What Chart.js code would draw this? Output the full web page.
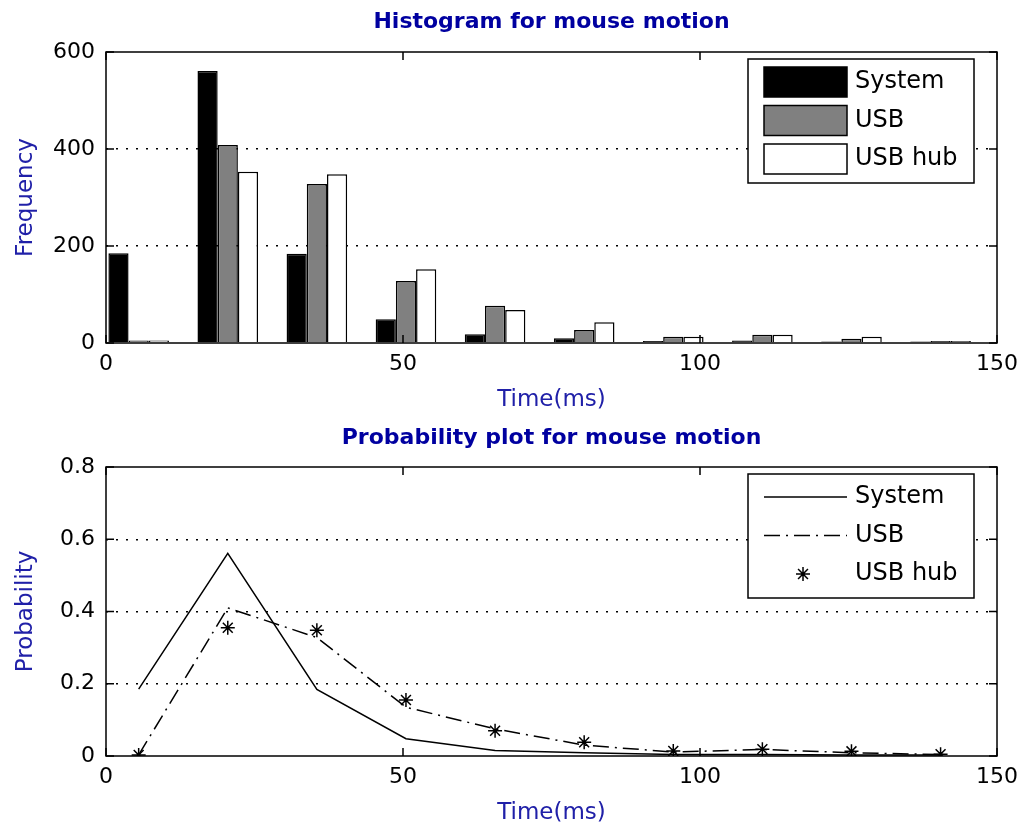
<!DOCTYPE html>
<html>
<head>
<meta charset="utf-8">
<title>Mouse motion</title>
<script src="https://cdn.jsdelivr.net/npm/chart.js@4/dist/chart.umd.min.js"></script>
<style>
  body { margin: 0; background: #fff; }
  canvas { display: block; }
</style>
</head>
<body>
<canvas id="histogramme" width="1026" height="416"></canvas>
<canvas id="probabilite" width="1026" height="417"></canvas>
<script>
// bin centres (ms)
const binCenters = [5.5, 20.5, 35.5, 50.5, 65.5, 80.5, 95.5, 110.5, 125.5, 140.5];

// histogram counts
const systemCounts = [185, 561, 184, 49, 18, 10, 4, 5, 3, 3];
const usbCounts = [5, 408, 328, 128, 77, 27, 13, 17, 9, 4];
const hubCounts = [5, 353, 348, 152, 68, 43, 13, 17, 13, 4];

// probabilities
const systemProb = [0.185, 0.561, 0.184, 0.048, 0.015, 0.009, 0.004, 0.004, 0.003, 0.003];
const usbProb = [0.003, 0.41, 0.328, 0.135, 0.075, 0.03, 0.011, 0.018, 0.009, 0.004];
const hubProb = [0.003, 0.355, 0.348, 0.155, 0.07, 0.038, 0.014, 0.019, 0.013, 0.005];

const seriesNames = ['System', 'USB', 'USB hub'];

const timeTicks = { min: 0, max: 150, step: 50 };
const freqTicks = { min: 0, max: 600, step: 200 };
const probTicks = { min: 0, max: 0.8, step: 0.2 };

Chart.defaults.font.family = '"DejaVu Sans", sans-serif';
Chart.defaults.color = '#000';

const points = (values) => binCenters.map((t, i) => ({ x: t, y: values[i] }));

// axes box with inward ticks on all four sides
const cadre = {
    id: 'cadre',
    afterDatasetsDraw(chart) {
        const { ctx, chartArea: a, scales: { x, y } } = chart;
        ctx.save();
        ctx.strokeStyle = '#000';
        ctx.lineWidth = 1.5;
        ctx.setLineDash([]);
        ctx.beginPath();
        x.ticks.forEach(t => {
            const px = x.getPixelForValue(t.value);
            ctx.moveTo(px, a.bottom); ctx.lineTo(px, a.bottom - 8);
            ctx.moveTo(px, a.top); ctx.lineTo(px, a.top + 8);
        });
        y.ticks.forEach(t => {
            const py = y.getPixelForValue(t.value);
            ctx.moveTo(a.left, py); ctx.lineTo(a.left + 8, py);
            ctx.moveTo(a.right, py); ctx.lineTo(a.right - 8, py);
        });
        ctx.stroke();
        ctx.strokeRect(a.left, a.top, a.right - a.left, a.bottom - a.top);
        ctx.restore();
    }
};

// legend drawn inside the plot, top right
const legendeInterne = {
    id: 'legendeInterne',
    afterDatasetsDraw(chart) {
        const { ctx, chartArea: a } = chart;
        const w = 226, h = 124;
        const left = a.right - 23 - w, top = a.top + 7;
        ctx.save();
        ctx.fillStyle = '#fff';
        ctx.fillRect(left, top, w, h);
        ctx.strokeStyle = '#000';
        ctx.lineWidth = 1.5;
        ctx.strokeRect(left, top, w, h);
        chart.data.datasets.forEach((ds, i) => {
            const cy = top + 23 + i * 38.5;
            ctx.strokeStyle = '#000';
            ctx.lineWidth = 1.5;
            if (chart.config.type === 'bar') {
                ctx.fillStyle = ds.backgroundColor;
                ctx.fillRect(left + 16, cy - 15, 83, 30);
                ctx.strokeRect(left + 16, cy - 15, 83, 30);
            } else if (ds.showLine === false) {
                const r = ds.pointRadius;
                const cx = left + 55;
                const d = r * Math.SQRT1_2;
                ctx.beginPath();
                ctx.moveTo(cx - r, cy); ctx.lineTo(cx + r, cy);
                ctx.moveTo(cx, cy - r); ctx.lineTo(cx, cy + r);
                ctx.moveTo(cx - d, cy - d); ctx.lineTo(cx + d, cy + d);
                ctx.moveTo(cx - d, cy + d); ctx.lineTo(cx + d, cy - d);
                ctx.stroke();
            } else {
                ctx.setLineDash(ds.borderDash || []);
                ctx.beginPath();
                ctx.moveTo(left + 16, cy);
                ctx.lineTo(left + 99, cy);
                ctx.stroke();
                ctx.setLineDash([]);
            }
            ctx.fillStyle = '#000';
            ctx.font = '24px "DejaVu Sans"';
            ctx.textBaseline = 'middle';
            ctx.textAlign = 'left';
            ctx.fillText(ds.label, left + 107, cy);
        });
        ctx.restore();
    }
};

function axes(yTicks, yLabel, xHeight, xTitlePad) {
    return {
        x: {
            type: 'linear',
            min: timeTicks.min,
            max: timeTicks.max,
            offset: false,
            ticks: { stepSize: timeTicks.step, padding: 8, font: { size: 22 }, maxRotation: 0 },
            grid: { display: false, drawTicks: false },
            border: { display: false },
            title: { display: true, text: 'Time(ms)', color: '#2020a8', font: { size: 23 }, padding: { top: 0, bottom: xTitlePad } },
            afterFit: s => { s.height = xHeight; }
        },
        y: {
            min: yTicks.min,
            max: yTicks.max,
            ticks: { stepSize: yTicks.step, padding: 11, font: { size: 22 } },
            grid: {
                drawTicks: false,
                lineWidth: 1.5,
                color: c => (c.index > 0 && c.index < c.scale.ticks.length - 1) ? '#000' : 'rgba(0,0,0,0)'
            },
            border: { display: false, dash: [2, 8] },
            title: { display: true, text: yLabel, color: '#2020a8', font: { size: 23 }, padding: { top: 12, bottom: 0 } },
            afterFit: s => { s.width = 106; }
        }
    };
}

function titre(text, padBottom) {
    return {
        display: true,
        text: text,
        fullSize: false,
        color: '#0000a0',
        font: { size: 22, weight: 'bold' },
        padding: { top: 9, bottom: padBottom }
    };
}

new Chart(document.getElementById('histogramme'), {
    type: 'bar',
    data: {
        datasets: [
            { label: seriesNames[0], data: points(systemCounts), backgroundColor: '#000', borderColor: '#000', borderWidth: 1.5 },
            { label: seriesNames[1], data: points(usbCounts), backgroundColor: '#808080', borderColor: '#000', borderWidth: 1.5 },
            { label: seriesNames[2], data: points(hubCounts), backgroundColor: '#fff', borderColor: '#000', borderWidth: 1.5 }
        ]
    },
    options: {
        responsive: false,
        animation: false,
        categoryPercentage: 0.68,
        barPercentage: 1,
        layout: { padding: { left: 0, right: 25, top: 0, bottom: 0 } },
        plugins: {
            legend: { display: false },
            tooltip: { enabled: false },
            title: titre('Histogram for mouse motion', 16.6)
        },
        scales: axes(freqTicks, 'Frequency', 73, 2)
    },
    plugins: [cadre, legendeInterne]
});

new Chart(document.getElementById('probabilite'), {
    type: 'line',
    data: {
        datasets: [
            { label: seriesNames[0], data: points(systemProb), borderColor: '#000', borderWidth: 1.5, pointRadius: 0, fill: false },
            { label: seriesNames[1], data: points(usbProb), borderColor: '#000', borderWidth: 1.5, borderDash: [16, 6, 2, 6], pointRadius: 0, fill: false },
            { label: seriesNames[2], data: points(hubProb), showLine: false, pointStyle: 'star', pointRadius: 7, pointBorderWidth: 1.5, pointBorderColor: '#000', pointBackgroundColor: '#000' }
        ]
    },
    options: {
        responsive: false,
        animation: false,
        layout: { padding: { left: 0, right: 26, top: 0, bottom: 0 } },
        plugins: {
            legend: { display: false },
            tooltip: { enabled: false },
            title: titre('Probability plot for mouse motion', 15.6)
        },
        scales: axes(probTicks, 'Probability', 77, 6)
    },
    plugins: [cadre, legendeInterne]
});
</script>
</body>
</html>
